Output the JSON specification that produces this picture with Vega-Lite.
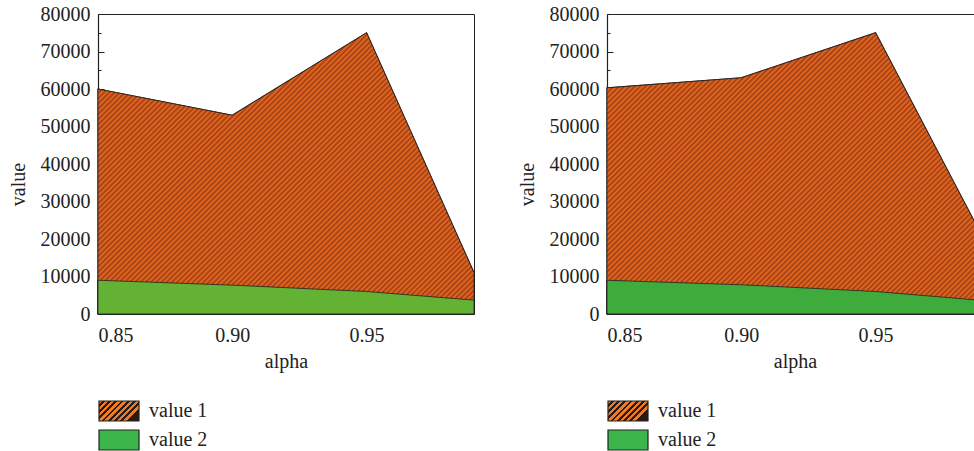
{
  "$schema": "https://vega.github.io/schema/vega-lite/v6.json",
  "padding": {"left": 7, "top": 3, "right": 0, "bottom": 0},
  "spacing": 38,
  "params": [
    {"name": "hatch", "value": {"gradient": "linear", "x1": 0, "y1": 0, "x2": 1.121, "y2": 0.838, "stops": [
      {"offset":0.000,"color":"#ec6a1e"},{"offset":0.004,"color":"#9c3e18"},{"offset":0.008,"color":"#ec6a1e"},{"offset":0.012,"color":"#9c3e18"},{"offset":0.016,"color":"#ec6a1e"},{"offset":0.020,"color":"#9c3e18"},{"offset":0.024,"color":"#ec6a1e"},{"offset":0.028,"color":"#9c3e18"},{"offset":0.032,"color":"#ec6a1e"},{"offset":0.036,"color":"#9c3e18"},{"offset":0.040,"color":"#ec6a1e"},{"offset":0.044,"color":"#9c3e18"},{"offset":0.048,"color":"#ec6a1e"},{"offset":0.052,"color":"#9c3e18"},{"offset":0.056,"color":"#ec6a1e"},{"offset":0.060,"color":"#9c3e18"},{"offset":0.064,"color":"#ec6a1e"},{"offset":0.068,"color":"#9c3e18"},{"offset":0.072,"color":"#ec6a1e"},{"offset":0.076,"color":"#9c3e18"},{"offset":0.080,"color":"#ec6a1e"},{"offset":0.084,"color":"#9c3e18"},{"offset":0.088,"color":"#ec6a1e"},{"offset":0.092,"color":"#9c3e18"},{"offset":0.096,"color":"#ec6a1e"},
      {"offset":0.100,"color":"#9c3e18"},{"offset":0.104,"color":"#ec6a1e"},{"offset":0.108,"color":"#9c3e18"},{"offset":0.112,"color":"#ec6a1e"},{"offset":0.116,"color":"#9c3e18"},{"offset":0.120,"color":"#ec6a1e"},{"offset":0.124,"color":"#9c3e18"},{"offset":0.128,"color":"#ec6a1e"},{"offset":0.132,"color":"#9c3e18"},{"offset":0.136,"color":"#ec6a1e"},{"offset":0.140,"color":"#9c3e18"},{"offset":0.144,"color":"#ec6a1e"},{"offset":0.148,"color":"#9c3e18"},{"offset":0.152,"color":"#ec6a1e"},{"offset":0.156,"color":"#9c3e18"},{"offset":0.160,"color":"#ec6a1e"},{"offset":0.164,"color":"#9c3e18"},{"offset":0.168,"color":"#ec6a1e"},{"offset":0.172,"color":"#9c3e18"},{"offset":0.176,"color":"#ec6a1e"},{"offset":0.180,"color":"#9c3e18"},{"offset":0.184,"color":"#ec6a1e"},{"offset":0.188,"color":"#9c3e18"},{"offset":0.192,"color":"#ec6a1e"},{"offset":0.196,"color":"#9c3e18"},
      {"offset":0.200,"color":"#ec6a1e"},{"offset":0.204,"color":"#9c3e18"},{"offset":0.208,"color":"#ec6a1e"},{"offset":0.212,"color":"#9c3e18"},{"offset":0.216,"color":"#ec6a1e"},{"offset":0.220,"color":"#9c3e18"},{"offset":0.224,"color":"#ec6a1e"},{"offset":0.228,"color":"#9c3e18"},{"offset":0.232,"color":"#ec6a1e"},{"offset":0.236,"color":"#9c3e18"},{"offset":0.240,"color":"#ec6a1e"},{"offset":0.244,"color":"#9c3e18"},{"offset":0.248,"color":"#ec6a1e"},{"offset":0.252,"color":"#9c3e18"},{"offset":0.256,"color":"#ec6a1e"},{"offset":0.260,"color":"#9c3e18"},{"offset":0.264,"color":"#ec6a1e"},{"offset":0.268,"color":"#9c3e18"},{"offset":0.272,"color":"#ec6a1e"},{"offset":0.276,"color":"#9c3e18"},{"offset":0.280,"color":"#ec6a1e"},{"offset":0.284,"color":"#9c3e18"},{"offset":0.288,"color":"#ec6a1e"},{"offset":0.292,"color":"#9c3e18"},{"offset":0.296,"color":"#ec6a1e"},
      {"offset":0.300,"color":"#9c3e18"},{"offset":0.304,"color":"#ec6a1e"},{"offset":0.308,"color":"#9c3e18"},{"offset":0.312,"color":"#ec6a1e"},{"offset":0.316,"color":"#9c3e18"},{"offset":0.320,"color":"#ec6a1e"},{"offset":0.324,"color":"#9c3e18"},{"offset":0.328,"color":"#ec6a1e"},{"offset":0.332,"color":"#9c3e18"},{"offset":0.336,"color":"#ec6a1e"},{"offset":0.340,"color":"#9c3e18"},{"offset":0.344,"color":"#ec6a1e"},{"offset":0.348,"color":"#9c3e18"},{"offset":0.352,"color":"#ec6a1e"},{"offset":0.356,"color":"#9c3e18"},{"offset":0.360,"color":"#ec6a1e"},{"offset":0.364,"color":"#9c3e18"},{"offset":0.368,"color":"#ec6a1e"},{"offset":0.372,"color":"#9c3e18"},{"offset":0.376,"color":"#ec6a1e"},{"offset":0.380,"color":"#9c3e18"},{"offset":0.384,"color":"#ec6a1e"},{"offset":0.388,"color":"#9c3e18"},{"offset":0.392,"color":"#ec6a1e"},{"offset":0.396,"color":"#9c3e18"},
      {"offset":0.400,"color":"#ec6a1e"},{"offset":0.404,"color":"#9c3e18"},{"offset":0.408,"color":"#ec6a1e"},{"offset":0.412,"color":"#9c3e18"},{"offset":0.416,"color":"#ec6a1e"},{"offset":0.420,"color":"#9c3e18"},{"offset":0.424,"color":"#ec6a1e"},{"offset":0.428,"color":"#9c3e18"},{"offset":0.432,"color":"#ec6a1e"},{"offset":0.436,"color":"#9c3e18"},{"offset":0.440,"color":"#ec6a1e"},{"offset":0.444,"color":"#9c3e18"},{"offset":0.448,"color":"#ec6a1e"},{"offset":0.452,"color":"#9c3e18"},{"offset":0.456,"color":"#ec6a1e"},{"offset":0.460,"color":"#9c3e18"},{"offset":0.464,"color":"#ec6a1e"},{"offset":0.468,"color":"#9c3e18"},{"offset":0.472,"color":"#ec6a1e"},{"offset":0.476,"color":"#9c3e18"},{"offset":0.480,"color":"#ec6a1e"},{"offset":0.484,"color":"#9c3e18"},{"offset":0.488,"color":"#ec6a1e"},{"offset":0.492,"color":"#9c3e18"},{"offset":0.496,"color":"#ec6a1e"},
      {"offset":0.500,"color":"#9c3e18"},{"offset":0.504,"color":"#ec6a1e"},{"offset":0.508,"color":"#9c3e18"},{"offset":0.512,"color":"#ec6a1e"},{"offset":0.516,"color":"#9c3e18"},{"offset":0.520,"color":"#ec6a1e"},{"offset":0.524,"color":"#9c3e18"},{"offset":0.528,"color":"#ec6a1e"},{"offset":0.532,"color":"#9c3e18"},{"offset":0.536,"color":"#ec6a1e"},{"offset":0.540,"color":"#9c3e18"},{"offset":0.544,"color":"#ec6a1e"},{"offset":0.548,"color":"#9c3e18"},{"offset":0.552,"color":"#ec6a1e"},{"offset":0.556,"color":"#9c3e18"},{"offset":0.560,"color":"#ec6a1e"},{"offset":0.564,"color":"#9c3e18"},{"offset":0.568,"color":"#ec6a1e"},{"offset":0.572,"color":"#9c3e18"},{"offset":0.576,"color":"#ec6a1e"},{"offset":0.580,"color":"#9c3e18"},{"offset":0.584,"color":"#ec6a1e"},{"offset":0.588,"color":"#9c3e18"},{"offset":0.592,"color":"#ec6a1e"},{"offset":0.596,"color":"#9c3e18"},
      {"offset":0.600,"color":"#ec6a1e"},{"offset":0.604,"color":"#9c3e18"},{"offset":0.608,"color":"#ec6a1e"},{"offset":0.612,"color":"#9c3e18"},{"offset":0.616,"color":"#ec6a1e"},{"offset":0.620,"color":"#9c3e18"},{"offset":0.624,"color":"#ec6a1e"},{"offset":0.628,"color":"#9c3e18"},{"offset":0.632,"color":"#ec6a1e"},{"offset":0.636,"color":"#9c3e18"},{"offset":0.640,"color":"#ec6a1e"},{"offset":0.644,"color":"#9c3e18"},{"offset":0.648,"color":"#ec6a1e"},{"offset":0.652,"color":"#9c3e18"},{"offset":0.656,"color":"#ec6a1e"},{"offset":0.660,"color":"#9c3e18"},{"offset":0.664,"color":"#ec6a1e"},{"offset":0.668,"color":"#9c3e18"},{"offset":0.672,"color":"#ec6a1e"},{"offset":0.676,"color":"#9c3e18"},{"offset":0.680,"color":"#ec6a1e"},{"offset":0.684,"color":"#9c3e18"},{"offset":0.688,"color":"#ec6a1e"},{"offset":0.692,"color":"#9c3e18"},{"offset":0.696,"color":"#ec6a1e"},
      {"offset":0.700,"color":"#9c3e18"},{"offset":0.704,"color":"#ec6a1e"},{"offset":0.708,"color":"#9c3e18"},{"offset":0.712,"color":"#ec6a1e"},{"offset":0.716,"color":"#9c3e18"},{"offset":0.720,"color":"#ec6a1e"},{"offset":0.724,"color":"#9c3e18"},{"offset":0.728,"color":"#ec6a1e"},{"offset":0.732,"color":"#9c3e18"},{"offset":0.736,"color":"#ec6a1e"},{"offset":0.740,"color":"#9c3e18"},{"offset":0.744,"color":"#ec6a1e"},{"offset":0.748,"color":"#9c3e18"},{"offset":0.752,"color":"#ec6a1e"},{"offset":0.756,"color":"#9c3e18"},{"offset":0.760,"color":"#ec6a1e"},{"offset":0.764,"color":"#9c3e18"},{"offset":0.768,"color":"#ec6a1e"},{"offset":0.772,"color":"#9c3e18"},{"offset":0.776,"color":"#ec6a1e"},{"offset":0.780,"color":"#9c3e18"},{"offset":0.784,"color":"#ec6a1e"},{"offset":0.788,"color":"#9c3e18"},{"offset":0.792,"color":"#ec6a1e"},{"offset":0.796,"color":"#9c3e18"},
      {"offset":0.800,"color":"#ec6a1e"},{"offset":0.804,"color":"#9c3e18"},{"offset":0.808,"color":"#ec6a1e"},{"offset":0.812,"color":"#9c3e18"},{"offset":0.816,"color":"#ec6a1e"},{"offset":0.820,"color":"#9c3e18"},{"offset":0.824,"color":"#ec6a1e"},{"offset":0.828,"color":"#9c3e18"},{"offset":0.832,"color":"#ec6a1e"},{"offset":0.836,"color":"#9c3e18"},{"offset":0.840,"color":"#ec6a1e"},{"offset":0.844,"color":"#9c3e18"},{"offset":0.848,"color":"#ec6a1e"},{"offset":0.852,"color":"#9c3e18"},{"offset":0.856,"color":"#ec6a1e"},{"offset":0.860,"color":"#9c3e18"},{"offset":0.864,"color":"#ec6a1e"},{"offset":0.868,"color":"#9c3e18"},{"offset":0.872,"color":"#ec6a1e"},{"offset":0.876,"color":"#9c3e18"},{"offset":0.880,"color":"#ec6a1e"},{"offset":0.884,"color":"#9c3e18"},{"offset":0.888,"color":"#ec6a1e"},{"offset":0.892,"color":"#9c3e18"},{"offset":0.896,"color":"#ec6a1e"},
      {"offset":0.900,"color":"#9c3e18"},{"offset":0.904,"color":"#ec6a1e"},{"offset":0.908,"color":"#9c3e18"},{"offset":0.912,"color":"#ec6a1e"},{"offset":0.916,"color":"#9c3e18"},{"offset":0.920,"color":"#ec6a1e"},{"offset":0.924,"color":"#9c3e18"},{"offset":0.928,"color":"#ec6a1e"},{"offset":0.932,"color":"#9c3e18"},{"offset":0.936,"color":"#ec6a1e"},{"offset":0.940,"color":"#9c3e18"},{"offset":0.944,"color":"#ec6a1e"},{"offset":0.948,"color":"#9c3e18"},{"offset":0.952,"color":"#ec6a1e"},{"offset":0.956,"color":"#9c3e18"},{"offset":0.960,"color":"#ec6a1e"},{"offset":0.964,"color":"#9c3e18"},{"offset":0.968,"color":"#ec6a1e"},{"offset":0.972,"color":"#9c3e18"},{"offset":0.976,"color":"#ec6a1e"},{"offset":0.980,"color":"#9c3e18"},{"offset":0.984,"color":"#ec6a1e"},{"offset":0.988,"color":"#9c3e18"},{"offset":0.992,"color":"#ec6a1e"},{"offset":0.996,"color":"#9c3e18"},
      {"offset":1.000,"color":"#ec6a1e"}
    ]}},
    {"name": "legendHatch", "value": {"gradient": "linear", "x1": 0, "y1": 0, "x2": 1, "y2": 0.5, "stops": [
      {"offset":0,"color":"#f07b22"},{"offset":0.07,"color":"#f07b22"},{"offset":0.07,"color":"#2b1a12"},{"offset":0.125,"color":"#2b1a12"},
      {"offset":0.125,"color":"#f07b22"},{"offset":0.195,"color":"#f07b22"},{"offset":0.195,"color":"#2b1a12"},{"offset":0.25,"color":"#2b1a12"},
      {"offset":0.25,"color":"#f07b22"},{"offset":0.32,"color":"#f07b22"},{"offset":0.32,"color":"#2b1a12"},{"offset":0.375,"color":"#2b1a12"},
      {"offset":0.375,"color":"#f07b22"},{"offset":0.445,"color":"#f07b22"},{"offset":0.445,"color":"#2b1a12"},{"offset":0.5,"color":"#2b1a12"},
      {"offset":0.5,"color":"#f07b22"},{"offset":0.57,"color":"#f07b22"},{"offset":0.57,"color":"#2b1a12"},{"offset":0.625,"color":"#2b1a12"},
      {"offset":0.625,"color":"#f07b22"},{"offset":0.695,"color":"#f07b22"},{"offset":0.695,"color":"#2b1a12"},{"offset":0.75,"color":"#2b1a12"},
      {"offset":0.75,"color":"#f07b22"},{"offset":0.82,"color":"#f07b22"},{"offset":0.82,"color":"#2b1a12"},{"offset":0.875,"color":"#2b1a12"},
      {"offset":0.875,"color":"#f07b22"},{"offset":0.945,"color":"#f07b22"},{"offset":0.945,"color":"#2b1a12"},{"offset":1,"color":"#2b1a12"}]}}
  ],
  "config": {
    "font": "Liberation Serif",
    "view": {"stroke": "#222", "strokeWidth": 1},
    "axis": {
      "grid": false,
      "domainColor": "#222",
      "domainWidth": 1.2,
      "tickColor": "#222",
      "tickWidth": 1,
      "labelColor": "#222",
      "titleColor": "#222",
      "labelFont": "Liberation Serif",
      "titleFont": "Liberation Serif",
      "labelFontSize": 20,
      "titleFontSize": 20,
      "titleFontWeight": "normal"
    },
    "legend": {
      "orient": "none",
      "legendX": 10,
      "legendY": 386,
      "direction": "vertical",
      "title": null,
      "symbolType": "M-2,-1H2V1H-2Z",
      "symbolSize": 400,
      "symbolStrokeColor": "#222",
      "symbolStrokeWidth": 1.2,
      "symbolOpacity": 1,
      "labelFont": "Liberation Serif",
      "labelFontSize": 20,
      "labelColor": "#222",
      "labelOffset": 19,
      "rowPadding": 3
    }
  },
  "datasets": {
    "left": [
      {"alpha": 0.85, "series": "value 1", "value": 60000},
      {"alpha": 0.90, "series": "value 1", "value": 53000},
      {"alpha": 0.95, "series": "value 1", "value": 75000},
      {"alpha": 0.99, "series": "value 1", "value": 11000},
      {"alpha": 0.85, "series": "value 2", "value": 9000},
      {"alpha": 0.90, "series": "value 2", "value": 7700},
      {"alpha": 0.95, "series": "value 2", "value": 6000},
      {"alpha": 0.99, "series": "value 2", "value": 3700}
    ],
    "right": [
      {"alpha": 0.85, "series": "value 1", "value": 60300},
      {"alpha": 0.90, "series": "value 1", "value": 63000},
      {"alpha": 0.95, "series": "value 1", "value": 75000},
      {"alpha": 0.99, "series": "value 1", "value": 20300},
      {"alpha": 0.85, "series": "value 2", "value": 9000},
      {"alpha": 0.90, "series": "value 2", "value": 7800},
      {"alpha": 0.95, "series": "value 2", "value": 6000},
      {"alpha": 0.99, "series": "value 2", "value": 3600}
    ]
  },
  "hconcat": [
    {
      "width": 376,
      "height": 300,
      "data": {"name": "left"},
      "layer": [
        {
          "mark": {"type": "area", "stroke": "#222", "strokeWidth": 1.2, "opacity": 1},
          "encoding": {
            "x": {"field": "alpha", "type": "quantitative",
              "scale": {"domain": [0.85, 0.99], "nice": false, "zero": false},
              "axis": {"values": [0.85, 0.9, 0.95], "format": ".2f", "tickSize": -5, "labelPadding": 16,
                "title": "alpha", "titleBaseline": "alphabetic", "titleY": 53, "titleX": 188}},
            "y": {"field": "value", "type": "quantitative", "stack": null,
              "scale": {"domain": [0, 80000], "nice": false},
              "axis": {"values": [0, 10000, 20000, 30000, 40000, 50000, 60000, 70000, 80000], "format": "d",
                "tickSize": -6, "labelPadding": 14, "title": "value", "titleAngle": -90,
                "titleBaseline": "alphabetic", "titleAlign": "center", "titleX": -74, "titleY": 170}},
            "color": {"field": "series", "type": "nominal",
              "scale": {"domain": ["value 1", "value 2"], "range": [{"expr": "legendHatch"}, "#3cb54a"]},
              "legend": {"symbolStrokeColor": "#222", "symbolStrokeWidth": 1.2}}
          }
        },
        {
          "transform": [{"filter": "datum.series === 'value 1'"}],
          "mark": {"type": "area", "fill": {"expr": "hatch"}, "stroke": "#222", "strokeWidth": 0.8},
          "encoding": {
            "x": {"field": "alpha", "type": "quantitative", "scale": {"domain": [0.85, 0.99], "nice": false, "zero": false}, "axis": null},
            "y": {"field": "value", "type": "quantitative", "scale": {"domain": [0, 80000], "nice": false}, "axis": null}
          }
        },
        {
          "transform": [{"filter": "datum.series === 'value 2'"}],
          "mark": {"type": "area", "fill": "#63b233", "stroke": "#222", "strokeWidth": 0.8},
          "encoding": {
            "x": {"field": "alpha", "type": "quantitative", "scale": {"domain": [0.85, 0.99], "nice": false, "zero": false}, "axis": null},
            "y": {"field": "value", "type": "quantitative", "scale": {"domain": [0, 80000], "nice": false}, "axis": null}
          }
        },
        {
          "mark": {"type": "point", "opacity": 0},
          "encoding": {
            "x": {"field": "alpha", "type": "quantitative",
              "scale": {"domain": [0.85, 0.99], "nice": false, "zero": false},
              "axis": {"orient": "bottom", "values": [0.875, 0.925, 0.975], "tickSize": -3, "labels": false, "domain": false, "title": null}},
            "y": {"field": "value", "type": "quantitative",
              "scale": {"domain": [0, 80000], "nice": false},
              "axis": {"orient": "left", "values": [5000, 15000, 25000, 35000, 45000, 55000, 65000, 75000], "tickSize": -3, "labels": false, "domain": false, "title": null}}
          }
        }
      ],
      "resolve": {"scale": {"x": "independent", "y": "independent"}}
    },
    {
      "width": 376,
      "height": 300,
      "data": {"name": "right"},
      "layer": [
        {
          "mark": {"type": "area", "stroke": "#222", "strokeWidth": 1.2, "opacity": 1},
          "encoding": {
            "x": {"field": "alpha", "type": "quantitative",
              "scale": {"domain": [0.85, 0.99], "nice": false, "zero": false},
              "axis": {"values": [0.85, 0.9, 0.95], "format": ".2f", "tickSize": -5, "labelPadding": 16,
                "title": "alpha", "titleBaseline": "alphabetic", "titleY": 53, "titleX": 188}},
            "y": {"field": "value", "type": "quantitative", "stack": null,
              "scale": {"domain": [0, 80000], "nice": false},
              "axis": {"values": [0, 10000, 20000, 30000, 40000, 50000, 60000, 70000, 80000], "format": "d",
                "tickSize": -6, "labelPadding": 14, "title": "value", "titleAngle": -90,
                "titleBaseline": "alphabetic", "titleAlign": "center", "titleX": -74, "titleY": 170}},
            "color": {"field": "series", "type": "nominal",
              "scale": {"domain": ["value 1", "value 2"], "range": [{"expr": "legendHatch"}, "#3cb54a"]},
              "legend": {"symbolStrokeColor": "#222", "symbolStrokeWidth": 1.2}}
          }
        },
        {
          "transform": [{"filter": "datum.series === 'value 1'"}],
          "mark": {"type": "area", "fill": {"expr": "hatch"}, "stroke": "#222", "strokeWidth": 0.8},
          "encoding": {
            "x": {"field": "alpha", "type": "quantitative", "scale": {"domain": [0.85, 0.99], "nice": false, "zero": false}, "axis": null},
            "y": {"field": "value", "type": "quantitative", "scale": {"domain": [0, 80000], "nice": false}, "axis": null}
          }
        },
        {
          "transform": [{"filter": "datum.series === 'value 2'"}],
          "mark": {"type": "area", "fill": "#3fab3c", "stroke": "#222", "strokeWidth": 0.8},
          "encoding": {
            "x": {"field": "alpha", "type": "quantitative", "scale": {"domain": [0.85, 0.99], "nice": false, "zero": false}, "axis": null},
            "y": {"field": "value", "type": "quantitative", "scale": {"domain": [0, 80000], "nice": false}, "axis": null}
          }
        },
        {
          "mark": {"type": "point", "opacity": 0},
          "encoding": {
            "x": {"field": "alpha", "type": "quantitative",
              "scale": {"domain": [0.85, 0.99], "nice": false, "zero": false},
              "axis": {"orient": "bottom", "values": [0.875, 0.925, 0.975], "tickSize": -3, "labels": false, "domain": false, "title": null}},
            "y": {"field": "value", "type": "quantitative",
              "scale": {"domain": [0, 80000], "nice": false},
              "axis": {"orient": "left", "values": [5000, 15000, 25000, 35000, 45000, 55000, 65000, 75000], "tickSize": -3, "labels": false, "domain": false, "title": null}}
          }
        }
      ],
      "resolve": {"scale": {"x": "independent", "y": "independent"}}
    }
  ],
  "resolve": {"scale": {"color": "independent"}, "legend": {"color": "independent"}}
}
